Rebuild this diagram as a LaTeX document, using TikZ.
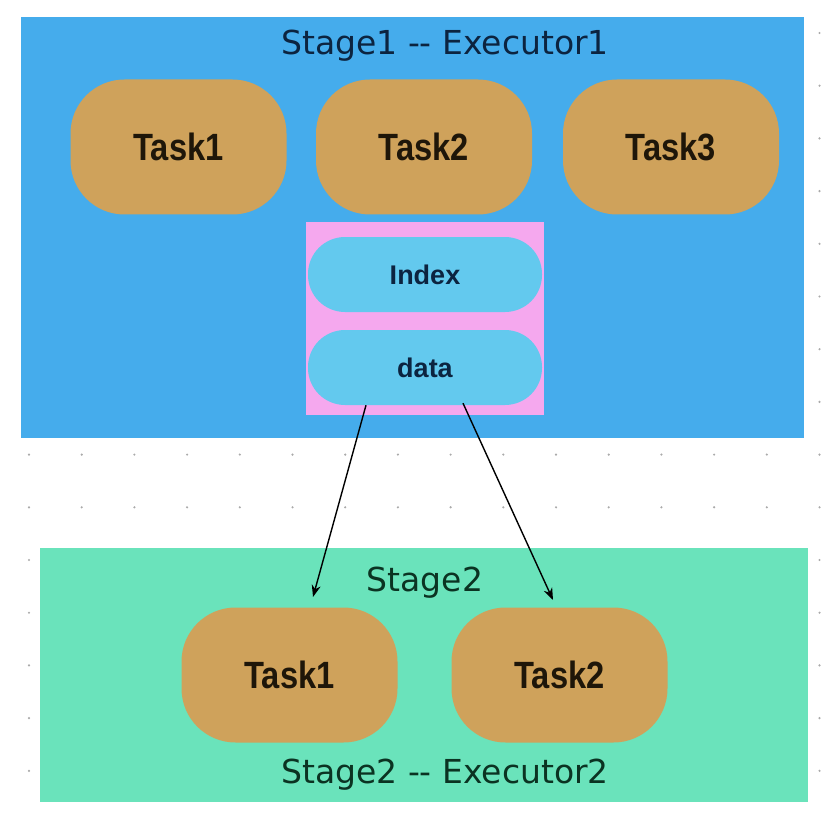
\documentclass[tikz,border=0pt]{standalone}
\usepackage{fontspec}
\setmainfont{DejaVu Sans}
\newfontfamily\taskfont{Liberation Sans}
\usetikzlibrary{arrows.meta,calc}
\definecolor{stageblue}{HTML}{45ACEC}
\definecolor{stagegreen}{HTML}{6AE3BB}
\definecolor{taskorange}{HTML}{CFA25B}
\definecolor{bufpink}{HTML}{F5A8EE}
\definecolor{pillcyan}{HTML}{63C9EE}
\definecolor{navytext}{HTML}{0C2440}
\definecolor{greentext}{HTML}{0B3322}
\definecolor{tasktext}{HTML}{1E1609}
\definecolor{dotgray}{HTML}{AAAAAA}
\tikzset{
  stagetitle/.style={inner sep=0pt, font=\fontsize{33}{36}\selectfont},
  taskbox/.style={fill=taskorange, draw=none, rounded corners=54pt,
    minimum width=216pt, minimum height=135pt, inner sep=0pt,
    text=tasktext, font=\taskfont\bfseries\fontsize{38}{40}\selectfont},
  pillbox/.style={fill=pillcyan, draw=none, rounded corners=37pt,
    minimum width=234pt, minimum height=75pt, inner sep=0pt,
    text=navytext, font=\taskfont\bfseries\fontsize{27}{30}\selectfont},
  flow/.style={draw=black, line width=1.4pt, -{Stealth[length=12pt,width=9pt]}},
  griddot/.style={fill=dotgray, draw=none}
}
\begin{document}
\begin{tikzpicture}[x=1pt,y=-1pt]
\useasboundingbox (0,0) rectangle (835,821);
\fill[white] (0,0) rectangle (835,821);
% dotted grid
\foreach \i in {0,...,15}{
  \foreach \j in {0,...,14}{
    \fill[griddot] ({29+52.7*\i},{33+52.7*\j}) circle (1.2pt);
  }
}
% Stage 1
\fill[stageblue] (21,17) rectangle (804,438);
\node[stagetitle, text=navytext] (title1) at (445,46) {Stage1 -{}- Executor1};
\node[taskbox] (s1t1) at (178.5,147) {\scalebox{0.86}[1]{Task1}};
\node[taskbox] (s1t2) at (424,147) {\scalebox{0.86}[1]{Task2}};
\node[taskbox] (s1t3) at (671,147) {\scalebox{0.86}[1]{Task3}};
\node[fill=bufpink, minimum width=238pt, minimum height=193pt, inner sep=0pt] (buf) at (425,318.5) {};
\node[pillbox] (index) at (425,274.5) {Index};
\node[pillbox] (data) at (425,367.5) {data};
% Stage 2
\fill[stagegreen] (40,548) rectangle (808,802);
\node[stagetitle, text=greentext] (title2) at (425,583) {Stage2};
\node[taskbox] (s2t1) at (289.5,675) {\scalebox{0.86}[1]{Task1}};
\node[taskbox] (s2t2) at (559.5,675) {\scalebox{0.86}[1]{Task2}};
\node[stagetitle, text=greentext] (exec2) at (445,775) {Stage2 -{}- Executor2};
% connectors
\coordinate (d1) at ($(data.south)+(-59,0)$);
\coordinate (d2) at ($(data.south)+(38,-2)$);
\coordinate (e1) at (313,597);
\coordinate (e2) at (553,600);
\draw[flow] (d1) -- (e1);
\draw[flow] (d2) -- (e2);
\end{tikzpicture}
\end{document}
